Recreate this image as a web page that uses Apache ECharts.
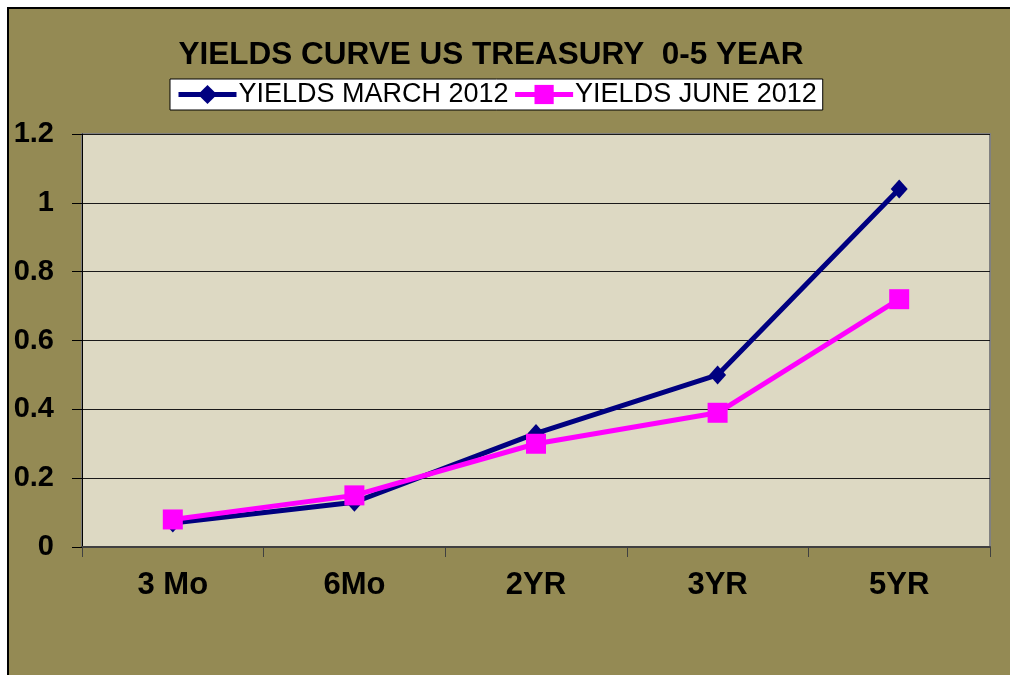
<!DOCTYPE html>
<html>
<head>
<meta charset="utf-8">
<script src="https://cdn.jsdelivr.net/npm/echarts@6/dist/echarts.min.js"></script>
<style>
html,body{margin:0;padding:0;background:#fff;}
#chart{width:1010px;height:675px;}
</style>
</head>
<body>
<div id="chart"></div>
<script>
const categories = ['3 Mo', '6Mo', '2YR', '3YR', '5YR'];
const yieldsMarch = [0.07, 0.13, 0.33, 0.50, 1.04];
const yieldsJune = [0.08, 0.15, 0.30, 0.39, 0.72];
const seriesNames = ['YIELDS MARCH 2012', 'YIELDS JUNE 2012'];
const titleText = 'YIELDS CURVE US TREASURY  0-5 YEAR';

const FONT = '"Liberation Sans", Arial, sans-serif';
const chart = echarts.init(document.getElementById('chart'), null, {renderer: 'canvas'});
chart.setOption({
  backgroundColor: '#ffffff',
  animation: false,
  graphic: [{
    type: 'rect', z: -10, silent: true,
    shape: {x: 8, y: 8, width: 1010, height: 675},
    style: {fill: '#948A54', stroke: '#000', lineWidth: 2}
  }],
  title: {
    text: titleText,
    left: 486, top: 34, textAlign: 'center',
    textStyle: {fontFamily: FONT, fontSize: 31.5, fontWeight: 'bold', color: '#000'}
  },
  legend: {
    left: 170, top: 79,
    padding: [2, 6],
    backgroundColor: '#fff', borderColor: '#000', borderWidth: 1,
    itemWidth: 58, itemHeight: 24, itemGap: 4,
    textStyle: {fontFamily: FONT, fontSize: 27, color: '#000', padding: [2, 0, 0, -3]},
    data: [
      {name: seriesNames[0], lineStyle: {width: 5}},
      {name: seriesNames[1], lineStyle: {width: 5}}
    ]
  },
  grid: {
    left: 82, right: 20, top: 134, bottom: 128,
    show: true, backgroundColor: '#DDD9C3', borderColor: '#808080', borderWidth: 2
  },
  xAxis: {
    type: 'category', data: categories, boundaryGap: true,
    axisLine: {lineStyle: {color: '#404040', width: 2}},
    axisTick: {show: true, inside: false, length: 10, alignWithLabel: false, lineStyle: {color: '#404040', width: 1}},
    axisLabel: {fontFamily: FONT, fontSize: 31, fontWeight: 'bold', color: '#000', margin: 23}
  },
  yAxis: {
    type: 'value', min: 0, max: 1.2, interval: 0.2,
    axisLine: {show: true, lineStyle: {color: '#000', width: 1}},
    axisTick: {show: true, inside: false, length: 10, lineStyle: {color: '#000', width: 1}},
    axisLabel: {fontFamily: FONT, fontSize: 29, fontWeight: 'bold', color: '#000', margin: 28},
    splitLine: {show: true, lineStyle: {color: '#1a1a1a', width: 1}}
  },
  series: [
    {
      name: seriesNames[0], type: 'line', data: yieldsMarch,
      symbol: 'diamond', symbolSize: [17, 19],
      lineStyle: {color: '#000080', width: 5},
      itemStyle: {color: '#000080'}
    },
    {
      name: seriesNames[1], type: 'line', data: yieldsJune,
      symbol: 'rect', symbolSize: 20,
      lineStyle: {color: '#FF00FF', width: 5},
      itemStyle: {color: '#FF00FF'}
    }
  ]
});
</script>
</body>
</html>
